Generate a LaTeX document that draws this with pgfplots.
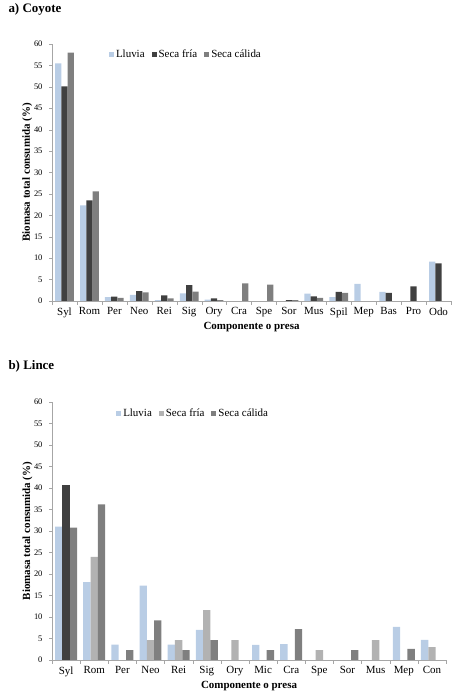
\documentclass[border=0pt]{standalone}
\usepackage{fontspec}
\setmainfont{Liberation Serif}
\usepackage{pgfplots}
\pgfplotsset{compat=1.18}

\definecolor{lluvia}{HTML}{B9CDE5}
\definecolor{oscuro}{HTML}{404040}
\definecolor{medio}{HTML}{7F7F7F}
\definecolor{claro}{HTML}{B2B2B2}
\definecolor{ejes}{HTML}{A6A6A6}

\pgfplotsset{
  panel/.style={
    scale only axis,
    ymin=0, ymax=60, ytick={0,5,...,60},
    axis lines=left,
    axis line style={-, draw=ejes},
    tick style={draw=ejes},
    tick align=outside,
    major tick length=3bp,
    minor tick length=4bp,
    x tick style={draw=none},
    minor x tick style={draw=ejes},
    y tick label style={font=\fontsize{8.5}{9}\selectfont, xshift=-3bp},
    x tick label style={font=\fontsize{11}{12}\selectfont},
    /pgf/number format/assume math mode=true,
    xlabel={\textbf{Componente o presa}},
    ylabel={\textbf{Biomasa total consumida (\%)}},
    every axis y label/.style={at={(axis description cs:-0.062,0.5)}, rotate=90,
      anchor=center, font=\fontsize{11}{12}\selectfont},
    every axis x label/.style={at={(axis description cs:0.5,-0.1)},
      anchor=center, font=\fontsize{11}{12}\selectfont},
    legend columns=3,
    legend style={draw=none, fill=none, font=\fontsize{11}{12}\selectfont,
      anchor=west, /tikz/every even column/.append style={column sep=5bp}},
    legend image code/.code={\fill[##1] (0bp,-2.5bp) rectangle (5bp,2.5bp);},
  }
}

\begin{document}
\begin{tikzpicture}[x=1bp,y=1bp]
\path[use as bounding box] (0,0) rectangle (455,696);

\node[anchor=west, font=\bfseries\fontsize{13}{15}\selectfont] at (5,687) {a) Coyote};
\node[anchor=west, font=\bfseries\fontsize{13}{15}\selectfont] at (5,330) {b) Lince};

% a) Coyote
\begin{axis}[panel,
    at={(52bp,395bp)}, anchor=south west,
    width=399bp, height=257bp,
    xmin=-0.5, xmax=15.5,
    xtick={0,...,15},
    xticklabels={Syl,Rom,Per,Neo,Rei,Sig,Ory,Cra,Spe,Sor,Mus,Spil,Mep,Bas,Pro,Odo},
    minor xtick={-0.5,0.5,...,15.5},
    legend style={at={(rel axis cs:0.135,0.961)}},
  ]
\addplot[ybar, bar width=0.25, bar shift=-0.25, fill=lluvia, draw=none] coordinates {
  (0,55.5) (1,22.3) (2,0.9) (3,1.4) (4,0.2) (5,1.8) (6,0.3)
  (10,1.7) (11,0.9) (12,4.0) (13,2.1) (15,9.2)};
\addplot[ybar, bar width=0.25, bar shift=0, fill=oscuro, draw=none] coordinates {
  (0,50.1) (1,23.5) (2,1.0) (3,2.3) (4,1.3) (5,3.7) (6,0.6)
  (9,0.2) (10,1.1) (11,2.1) (13,1.9) (14,3.4) (15,8.8)};
\addplot[ybar, bar width=0.25, bar shift=0.25, fill=medio, draw=none] coordinates {
  (0,58.0) (1,25.6) (2,0.7) (3,2.0) (4,0.6) (5,2.2) (6,0.2)
  (7,4.1) (8,3.8) (9,0.2) (10,0.7) (11,1.9)};
\legend{Lluvia, Seca fría, Seca cálida}
\end{axis}

% b) Lince
\begin{axis}[panel,
    at={(52bp,36bp)}, anchor=south west,
    width=394bp, height=258bp,
    xmin=-0.5, xmax=13.5,
    xtick={0,...,13},
    xticklabels={Syl,Rom,Per,Neo,Rei,Sig,Ory,Mic,Cra,Spe,Sor,Mus,Mep,Con},
    minor xtick={-0.5,0.5,...,13.5},
    legend style={at={(rel axis cs:0.155,0.957)}},
  ]
\addplot[ybar, bar width=0.26, bar shift=-0.26, fill=lluvia, draw=none] coordinates {
  (0,31.0) (1,18.1) (2,3.6) (3,17.3) (4,3.6) (5,7.0)
  (7,3.5) (8,3.7) (12,7.7) (13,4.7)};
\addplot[ybar, bar width=0.26, bar shift=0, fill=claro, draw=none] coordinates {
  (1,24.0) (3,4.6) (4,4.6) (5,11.6) (6,4.6) (9,2.3) (11,4.6) (13,3.0)};
\addplot[ybar, bar width=0.26, bar shift=0.26, fill=medio, draw=none] coordinates {
  (0,30.8) (1,36.2) (2,2.3) (3,9.2) (4,2.3) (5,4.6)
  (7,2.3) (8,7.2) (10,2.3) (12,2.6)};
\addplot[ybar, bar width=0.26, bar shift=0, fill=oscuro, draw=none, forget plot] coordinates {
  (0,40.7)};
\legend{Lluvia, Seca fría, Seca cálida}
\end{axis}
\end{tikzpicture}
\end{document}
